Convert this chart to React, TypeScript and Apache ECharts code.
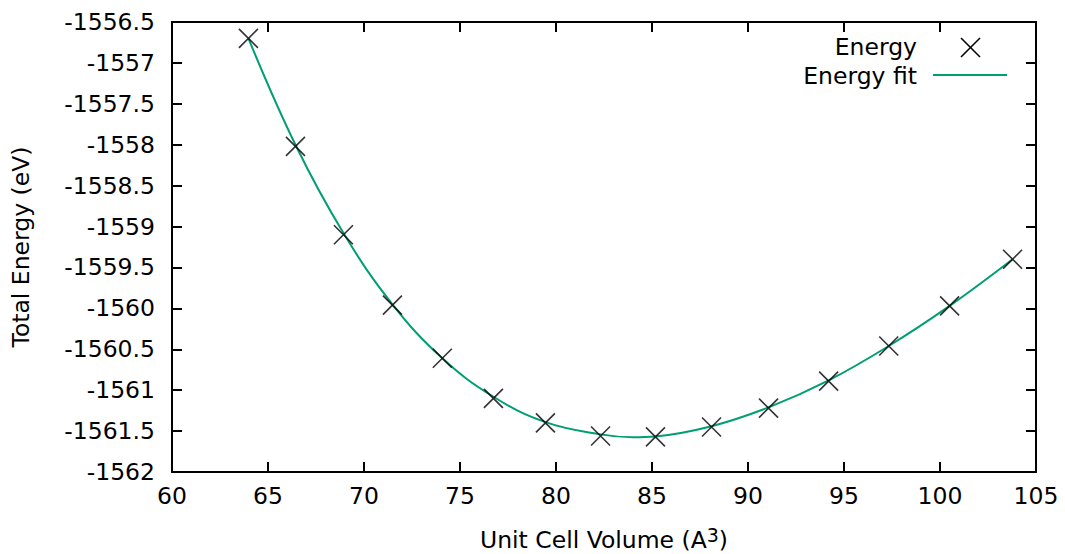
import React, { useEffect, useRef } from "react";
import * as echarts from "echarts";

// Measured data points: unit cell volume (Å^3) and total energy (eV)
const volumes = [63.98, 66.43, 68.93, 71.48, 74.08, 76.74, 79.45, 82.32, 85.18, 88.1, 91.07, 94.2, 97.33, 100.5, 103.78];
const energies = [-1556.7, -1558.02, -1559.1, -1559.96, -1560.61, -1561.1, -1561.4, -1561.56, -1561.57, -1561.45, -1561.22, -1560.89, -1560.46, -1559.97, -1559.4];

// Fit curve
const fitVolumes = [63.98, 66.43, 68.93, 71.48, 74.08, 76.74, 79.45, 82.32, 84.0, 85.18, 88.1, 91.07, 94.2, 97.33, 100.5, 103.78];
const fitEnergies = [-1556.7, -1558.0, -1559.08, -1559.95, -1560.61, -1561.08, -1561.39, -1561.54, -1561.575, -1561.565, -1561.44, -1561.21, -1560.88, -1560.46, -1559.97, -1559.4];

const xMin = 60, xMax = 105, xStep = 5;
const yMin = -1562, yMax = -1556.5, yStep = 0.5;

const FONT = "DejaVu Sans";
const FS = 23.5;
const FIT_COLOR = "#009e73";
const CROSS = "path://M0,0L19,19M19,0L0,19";

export default function App() {
  const ref = useRef<HTMLDivElement>(null);
  useEffect(() => {
    if (!ref.current) return;
    const chart = echarts.init(ref.current, undefined, { renderer: "svg" });
    const axisLine = { show: true, lineStyle: { color: "#000", width: 2 } };
    const tick = { show: true, inside: true, length: 10, lineStyle: { color: "#000", width: 2 } };
    const label = { color: "#000", fontFamily: FONT, fontSize: FS, formatter: (v: number) => String(v) };
    chart.setOption({
      animation: false,
      backgroundColor: "#fff",
      grid: { left: 172, top: 22, right: 29, bottom: 82, containLabel: false, outerBoundsMode: "none" },
      xAxis: [
        {
          type: "value", min: xMin, max: xMax, interval: xStep, position: "bottom",
          axisLine, axisTick: tick, splitLine: { show: false },
          axisLabel: { ...label, margin: 12, showMinLabel: true, showMaxLabel: true },
          name: "Unit Cell Volume (A{sup|3})",
          nameLocation: "middle", nameGap: 53,
          nameTextStyle: {
            color: "#000", fontFamily: FONT, fontSize: FS,
            rich: { sup: { fontFamily: FONT, fontSize: 19, color: "#000", verticalAlign: "bottom", padding: [0, 0, 10, 0] } },
          },
        },
        {
          type: "value", min: xMin, max: xMax, interval: xStep, position: "top",
          axisLine, axisTick: tick, axisLabel: { show: false }, splitLine: { show: false },
        },
      ],
      yAxis: [
        {
          type: "value", min: yMin, max: yMax, interval: yStep, position: "left",
          axisLine, axisTick: tick, splitLine: { show: false },
          axisLabel: { ...label, margin: 17, showMinLabel: true, showMaxLabel: true },
          name: "Total Energy (eV)", nameLocation: "middle", nameGap: 139,
          nameTextStyle: { color: "#000", fontFamily: FONT, fontSize: FS },
        },
        {
          type: "value", min: yMin, max: yMax, interval: yStep, position: "right",
          axisLine, axisTick: tick, axisLabel: { show: false }, splitLine: { show: false },
        },
      ],
      series: [
        {
          name: "Energy fit", type: "line", xAxisIndex: 0, yAxisIndex: 0,
          data: fitVolumes.map((v, i) => [v, fitEnergies[i]]),
          smooth: 0.4, showSymbol: false, silent: true,
          lineStyle: { color: FIT_COLOR, width: 2 }, z: 2,
        },
        {
          name: "Energy", type: "scatter", xAxisIndex: 0, yAxisIndex: 0,
          data: volumes.map((v, i) => [v, energies[i]]),
          symbol: CROSS, symbolSize: 19,
          itemStyle: { color: "none", borderColor: "#000", borderWidth: 1.6 }, z: 3,
        },
      ],
      graphic: [
        { type: "text", x: 917, y: 47, style: { text: "Energy", fill: "#000", font: `${FS}px "${FONT}"`, textAlign: "right", textVerticalAlign: "middle" } },
        { type: "line", shape: { x1: 961, y1: 38, x2: 980, y2: 57 }, style: { stroke: "#000", lineWidth: 1.6 } },
        { type: "line", shape: { x1: 980, y1: 38, x2: 961, y2: 57 }, style: { stroke: "#000", lineWidth: 1.6 } },
        { type: "text", x: 917, y: 76, style: { text: "Energy fit", fill: "#000", font: `${FS}px "${FONT}"`, textAlign: "right", textVerticalAlign: "middle" } },
        { type: "line", shape: { x1: 933, y1: 75, x2: 1007, y2: 75 }, style: { stroke: FIT_COLOR, lineWidth: 2 } },
      ],
    });
    return () => chart.dispose();
  }, []);
  return <div ref={ref} style={{ position: "absolute", left: 0, top: 0, width: 1065, height: 554 }} />;
}
